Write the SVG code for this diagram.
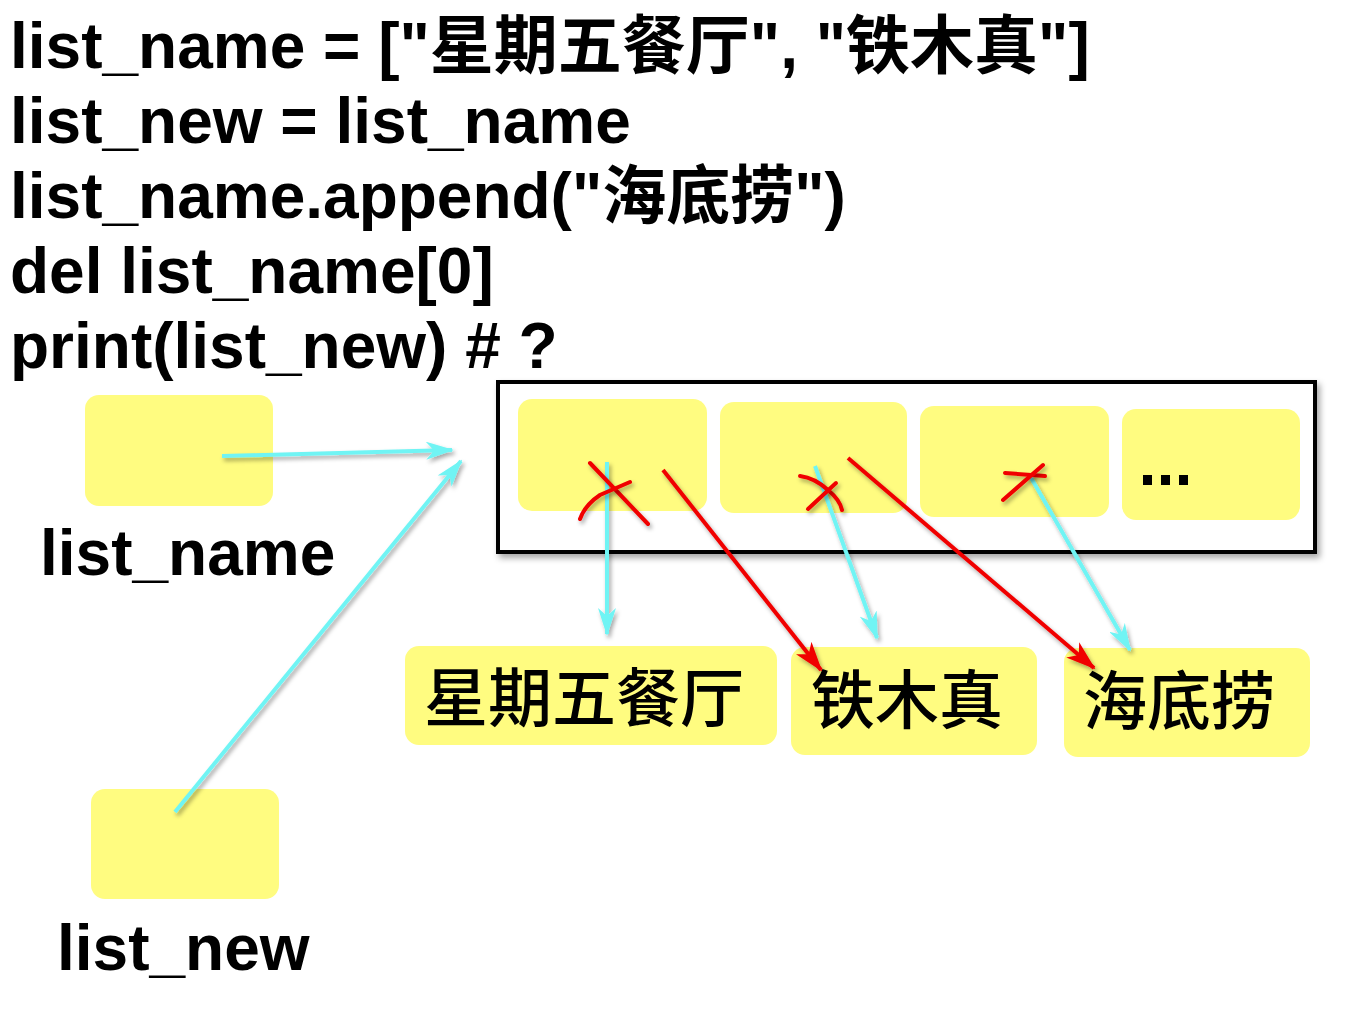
<svg xmlns="http://www.w3.org/2000/svg" width="1372" height="1027" viewBox="0 0 1372 1027">
<style>
.code{font-family:"Liberation Sans","Noto Sans CJK SC",sans-serif;font-weight:bold;font-size:64px;fill:#000}
.lbl{font-family:"Liberation Sans",sans-serif;font-weight:bold;font-size:64px;fill:#000}
.cjk{font-family:"Noto Sans CJK SC",sans-serif;font-size:64px;font-weight:500;fill:#000}
.box{fill:#FFFC80}
.cy{stroke:#70F4F4;stroke-width:4;fill:none;filter:url(#sh)}
.rd{stroke:#F00000;stroke-width:4;fill:none;filter:url(#sh)}
.x{stroke:#F00000;stroke-width:4;fill:none;stroke-linecap:round;filter:url(#sh)}
</style>
<defs>
<filter id="sh" filterUnits="userSpaceOnUse" x="0" y="0" width="1372" height="1027">
<feDropShadow dx="2" dy="3" stdDeviation="2" flood-color="#000" flood-opacity="0.35"/>
</filter>
<filter id="bsh" filterUnits="userSpaceOnUse" x="0" y="0" width="1372" height="1027">
<feDropShadow dx="3" dy="4" stdDeviation="3" flood-color="#000" flood-opacity="0.35"/>
</filter>
<marker id="ac" viewBox="0 0 28 18" refX="26" refY="9" markerWidth="28" markerHeight="18" markerUnits="userSpaceOnUse" orient="auto">
<path d="M0,0 L28,9 L0,18 L8,9 Z" fill="#70F4F4"/>
</marker>
<marker id="ar" viewBox="0 0 30 20" refX="28" refY="10" markerWidth="30" markerHeight="20" markerUnits="userSpaceOnUse" orient="auto">
<path d="M0,0 L30,10 L0,20 L8,10 Z" fill="#F00000"/>
</marker>
</defs>
<rect width="1372" height="1027" fill="#fff"/>
<g id="code">
<text class="code" x="10" y="68">list_name = ["星期五餐厅", "铁木真"]</text>
<text class="code" x="10" y="143">list_new = list_name</text>
<text class="code" x="10" y="218">list_name.append("海底捞")</text>
<text class="code" x="10" y="293">del list_name[0]</text>
<text class="code" x="10" y="368">print(list_new) # ?</text>
</g>
<g id="var-list_name">
<rect class="box" x="85" y="395" width="188" height="111" rx="14"/>
<text class="lbl" x="40" y="575">list_name</text>
</g>
<g id="var-list_new">
<rect class="box" x="91" y="789" width="188" height="110" rx="14"/>
<text class="lbl" x="57" y="970">list_new</text>
</g>
<g id="list">
<rect x="498" y="382" width="817" height="170" fill="#fff" stroke="#000" stroke-width="4" filter="url(#bsh)"/>
<rect class="box" x="518" y="399" width="189" height="112" rx="14"/>
<rect class="box" x="720" y="402" width="187" height="111" rx="14"/>
<rect class="box" x="920" y="406" width="189" height="111" rx="14"/>
<rect class="box" x="1122" y="409" width="178" height="111" rx="14"/>
<g fill="#000"><rect x="1143" y="475" width="9" height="10"/><rect x="1161" y="475" width="9" height="10"/><rect x="1179" y="475" width="9" height="10"/></g>
</g>
<g id="val-1">
<rect class="box" x="405" y="646" width="372" height="99" rx="14"/>
<text class="cjk" x="424" y="721">星期五餐厅</text>
</g>
<g id="val-2">
<rect class="box" x="791" y="647" width="246" height="108" rx="14"/>
<text class="cjk" x="811" y="723">铁木真</text>
</g>
<g id="val-3">
<rect class="box" x="1064" y="648" width="246" height="109" rx="14"/>
<text class="cjk" x="1083" y="724">海底捞</text>
</g>
<g id="connectors">
<line class="cy" x1="222" y1="456" x2="452" y2="450" marker-end="url(#ac)"/>
<line class="cy" x1="175" y1="812" x2="461" y2="461" marker-end="url(#ac)"/>
<line class="cy" x1="607" y1="462" x2="607" y2="634" marker-end="url(#ac)"/>
<line class="cy" x1="815" y1="466" x2="877" y2="638" marker-end="url(#ac)"/>
<line class="cy" x1="1030" y1="476" x2="1130" y2="650" marker-end="url(#ac)"/>
<line class="rd" x1="663" y1="470" x2="821" y2="670" marker-end="url(#ar)"/>
<line class="rd" x1="848" y1="458" x2="1094" y2="668" marker-end="url(#ar)"/>
<path class="x" d="M590,463 L648,524"/>
<path class="x" d="M580,519 Q585,505 600,495 L630,482"/>
<path class="x" d="M800,476 Q815,478 828,490 Q840,500 842,510"/>
<path class="x" d="M808,509 L836,483"/>
<path class="x" d="M1005,473 L1045,476"/>
<path class="x" d="M1003,500 L1043,465"/>
</g>
</svg>
